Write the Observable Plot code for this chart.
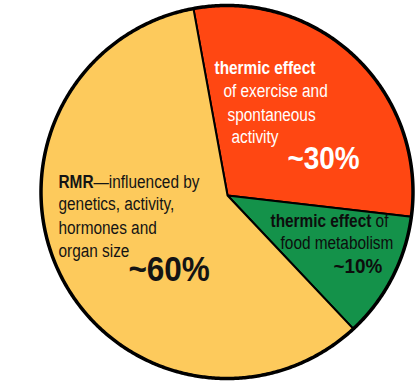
<!DOCTYPE html>
<html>
<head>
<meta charset="utf-8">
<script src="https://cdn.jsdelivr.net/npm/d3@7"></script>
<script src="https://cdn.jsdelivr.net/npm/@observablehq/plot@0.6"></script>
<style>
  html, body { margin: 0; padding: 0; background: #ffffff; }
  #chart svg { display: block; }
</style>
</head>
<body>
<div id="chart"></div>
<script>
// ---- data ----
const categories = ["thermic effect of exercise and spontaneous activity", "thermic effect of food metabolism", "RMR"];
const values = [30, 11, 59];
const percentLabels = ["~30%", "~10%", "~60%"];
const descriptionLines = [
  ["thermic effect|", "of exercise and", "spontaneous", "activity"],
  ["thermic effect| of", "food metabolism"],
  ["RMR|\u2014influenced by", "genetics, activity,", "hormones and", "organ size"]
];

// ---- styling / layout ----
const sliceColors = ["#FF4712", "#14924A", "#FDCA5C"];
const textColors = ["#ffffff", "#0d0d0d", "#141414"];
const startDeg = -10.4;
const vertexOffset = [0.003, -0.019]; // the drawing's slices meet slightly below the circle's centre
const font = "'Liberation Sans', Arial, sans-serif";
const descSize = 19, descStretch = 0.81;
const pctStretch = 0.9;
// label anchors in pie-radius units (x right, y up), per line
const lineLayout = [
  [[-0.067, 0.635], [-0.019, 0.507], [0.003, 0.383], [0.024, 0.265]],
  [[0.234, -0.190], [0.288, -0.308]],
  [[-0.906, 0.024], [-0.906, -0.099], [-0.906, -0.223], [-0.906, -0.351]]
];
const percentLayout = [[0.325, 0.126], [0.573, -0.432], [-0.530, -0.475]];
const percentSizes = [31, 21, 35];

// ---- geometry from data ----
const start = startDeg * Math.PI / 180;
const arcs = d3.pie().sort(null).startAngle(start).endAngle(start + 2 * Math.PI)(values);
const slicePts = [];
arcs.forEach((a, i) => {
  const n = Math.max(2, Math.ceil((a.endAngle - a.startAngle) / (Math.PI / 360)));
  slicePts.push({name: categories[i], x: vertexOffset[0], y: vertexOffset[1]});
  for (let k = 0; k <= n; k++) {
    const t = a.startAngle + (a.endAngle - a.startAngle) * k / n;
    slicePts.push({name: categories[i], x: Math.sin(t), y: Math.cos(t)});
  }
  slicePts.push({name: categories[i], x: vertexOffset[0], y: vertexOffset[1]});
});
const rim = d3.range(0, 721).map(k => {
  const t = k / 720 * 2 * Math.PI;
  return {x: Math.sin(t), y: Math.cos(t)};
});

const marks = [
  Plot.line(slicePts, {x: "x", y: "y", z: "name", fill: "name", stroke: "#000", strokeWidth: 2, strokeLinejoin: "round"}),
  Plot.line(rim, {x: "x", y: "y", stroke: "#000", strokeWidth: 3.5, fill: "none"})
];
descriptionLines.forEach((lines, i) => {
  const rows = lines.map((t, j) => ({text: t, x: lineLayout[i][j][0], y: lineLayout[i][j][1]}));
  marks.push(Plot.text(rows, {
    x: "x", y: "y", text: "text", textAnchor: "start", lineAnchor: "bottom",
    fill: textColors[i], fontSize: descSize, fontFamily: font, className: "desc"
  }));
  marks.push(Plot.text([{text: percentLabels[i], x: percentLayout[i][0], y: percentLayout[i][1]}], {
    x: "x", y: "y", text: "text", textAnchor: "start", lineAnchor: "bottom",
    fill: textColors[i], fontSize: percentSizes[i], fontWeight: "bold", fontFamily: font, className: "pct"
  }));
});

const chart = Plot.plot({
  width: 420,
  height: 391,
  marginLeft: 40.5,
  marginRight: 7.5,
  marginTop: 5,
  marginBottom: 13,
  x: {domain: [-1, 1], axis: null},
  y: {domain: [-1, 1], axis: null},
  color: {domain: categories, range: sliceColors},
  style: {background: "#ffffff", fontFamily: font},
  marks
});

const ns = "http://www.w3.org/2000/svg";
function condense(t, k) {
  const tr = t.getAttribute("transform") || "";
  t.setAttribute("transform", tr + ` scale(${k},1)`);
}
// bold prefix before "|", condensed type
chart.querySelectorAll("g.desc text").forEach(t => {
  condense(t, descStretch);
  const s = t.textContent;
  if (!s.includes("|")) return;
  const [b, r] = s.split("|");
  t.textContent = "";
  const t1 = document.createElementNS(ns, "tspan");
  t1.setAttribute("font-weight", "bold");
  t1.textContent = b;
  t.appendChild(t1);
  if (r) {
    const t2 = document.createElementNS(ns, "tspan");
    t2.textContent = r;
    t.appendChild(t2);
  }
});
chart.querySelectorAll("g.pct text").forEach(t => condense(t, pctStretch));

document.getElementById("chart").appendChild(chart);
</script>
</body>
</html>
